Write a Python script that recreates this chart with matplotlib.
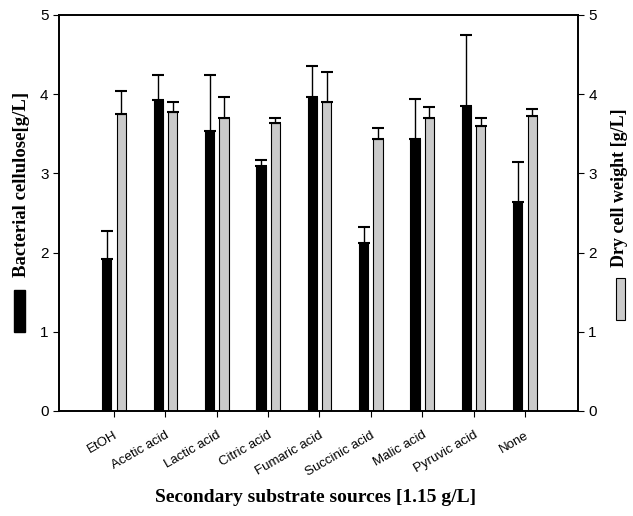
import matplotlib
matplotlib.use("Agg")
import matplotlib.pyplot as plt
import numpy as np
from matplotlib.patches import Rectangle

# data
substrates = ["EtOH", "Acetic acid", "Lactic acid", "Citric acid", "Fumaric acid",
              "Succinic acid", "Malic acid", "Pyruvic acid", "None"]
cellulose = [1.92, 3.93, 3.53, 3.09, 3.97, 2.12, 3.43, 3.85, 2.64]
cellulose_err = [0.35, 0.31, 0.71, 0.08, 0.38, 0.20, 0.51, 0.90, 0.50]
dcw = [3.75, 3.77, 3.70, 3.63, 3.90, 3.44, 3.70, 3.60, 3.72]
dcw_err = [0.29, 0.13, 0.26, 0.07, 0.38, 0.13, 0.14, 0.10, 0.09]

x = np.arange(len(substrates))
w = 0.18
off = 0.14
gray = "#cacaca"

fig = plt.figure(figsize=(6.33, 5.16), dpi=100)
ax = fig.add_axes([0.0932, 0.2035, 0.8198, 0.7675])

ekw = dict(ecolor="black", elinewidth=1, capsize=4, capthick=1.5)
ax.bar(x - off, cellulose, w, color="black", edgecolor="black", linewidth=0.8,
       yerr=[np.zeros(len(x)), cellulose_err], error_kw=ekw)
ax.bar(x + off, dcw, w, color=gray, edgecolor="black", linewidth=0.8,
       yerr=[np.zeros(len(x)), dcw_err], error_kw=ekw)

ax.set_xlim(-1.07, 9.03)
ax.set_ylim(0, 5)
ax.set_yticks([0, 1, 2, 3, 4, 5])
ax.set_xticks(x)
ax.set_xticklabels(substrates, rotation=30, ha="right", rotation_mode="anchor",
                   fontsize=9.5, family="Liberation Sans")
ax.tick_params(axis="y", labelsize=11, direction="out", length=4)
ax.tick_params(axis="x", direction="out", length=4, pad=9)
for lab in ax.get_yticklabels():
    lab.set_family("Liberation Sans")

ax2 = ax.twinx()
ax2.set_ylim(0, 5)
ax2.set_yticks([0, 1, 2, 3, 4, 5])
ax2.tick_params(axis="y", labelsize=11, direction="out", length=4)
for lab in ax2.get_yticklabels():
    lab.set_family("Liberation Sans")

for a in (ax, ax2):
    for s in a.spines.values():
        s.set_linewidth(1.2)

# axis titles with small legend keys
fig.text(316 / 633, 1 - 497 / 516, "Secondary substrate sources [1.15 g/L]",
         ha="center", va="center", fontsize=14, fontweight="bold", family="Liberation Serif")
fig.text(22 / 633, 1 - 184 / 516, "Bacterial cellulose[g/L]", rotation=90,
         ha="center", va="center", fontsize=13.5, fontweight="bold", family="Liberation Serif")
fig.text(620 / 633, 1 - 188 / 516, "Dry cell weight [g/L]", rotation=90,
         ha="center", va="center", fontsize=13, fontweight="bold", family="Liberation Serif")
fig.add_artist(Rectangle((14 / 633, 1 - 332 / 516), 11 / 633, 42 / 516,
                         transform=fig.transFigure, facecolor="black", edgecolor="black"))
fig.add_artist(Rectangle((616 / 633, 1 - 320 / 516), 9 / 633, 42 / 516,
                         transform=fig.transFigure, facecolor=gray, edgecolor="black",
                         linewidth=0.8))

fig.savefig("out.png", dpi=100)
